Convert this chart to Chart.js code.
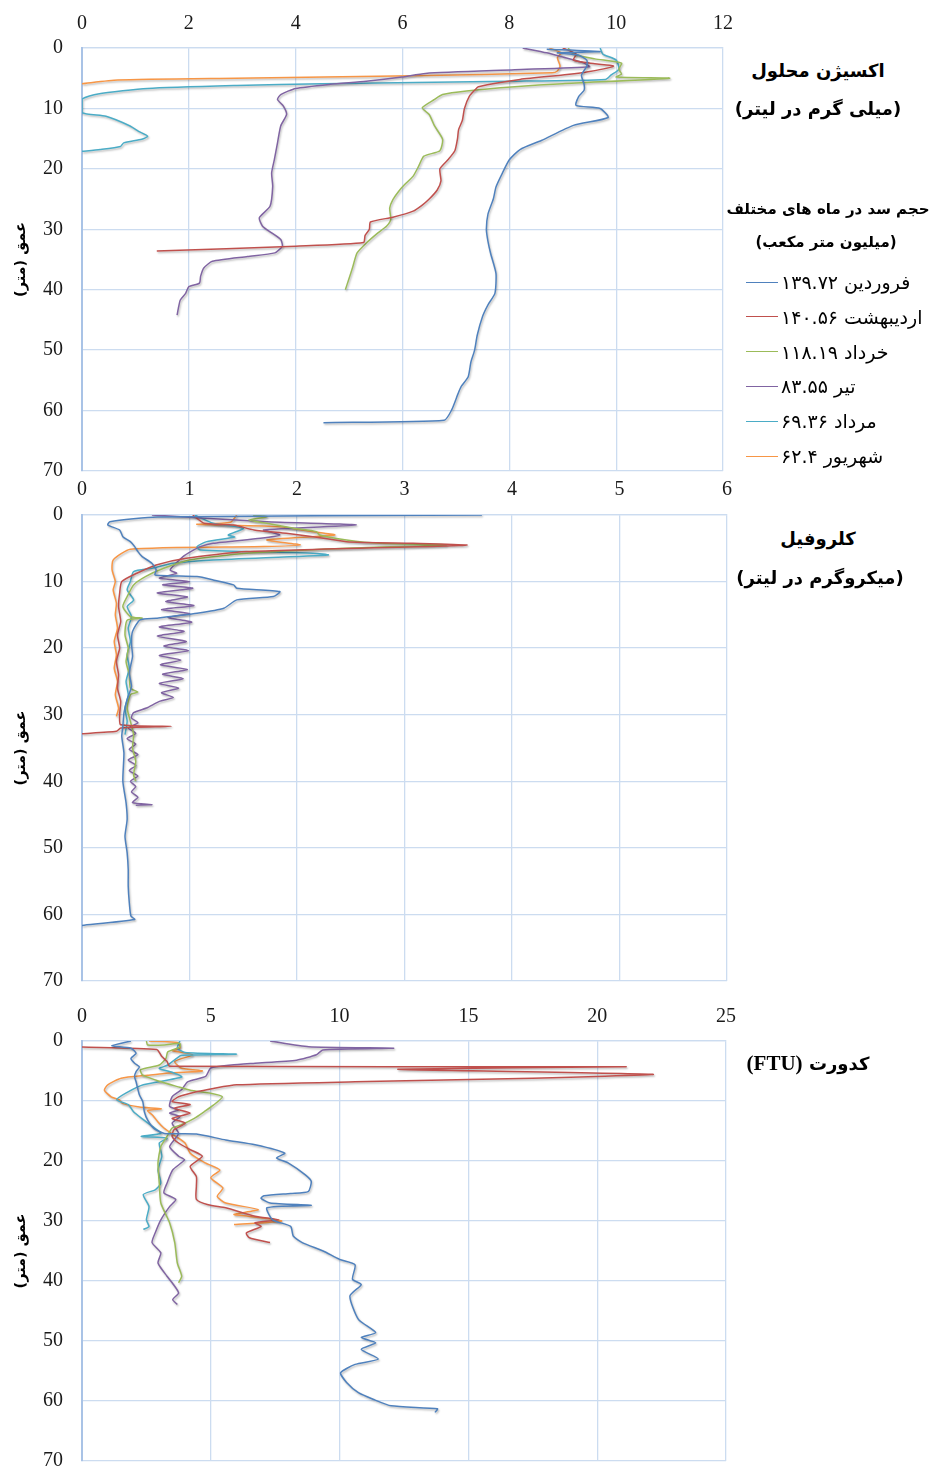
<!DOCTYPE html>
<html><head><meta charset="utf-8">
<script src="https://cdn.jsdelivr.net/npm/chart.js@4"></script>
<style>
body{margin:0;width:931px;height:1468px;background:#fff;position:relative;overflow:hidden;font-family:"DejaVu Sans",sans-serif;}
canvas{position:absolute;left:0;}
.t{position:absolute;direction:rtl;text-align:center;font-weight:bold;color:#000;white-space:nowrap;transform:translate(-50%,-50%);}
.lg{position:absolute;left:746px;display:flex;align-items:center;transform:translateY(-50%);}
.lg i{display:block;width:32px;height:0;border-top:1.5px solid;margin-right:3px;}
.lg span{direction:rtl;font-size:19px;color:#000;white-space:nowrap;}
</style></head><body>
<canvas id="c1" width="745" height="504" style="top:0px"></canvas>
<canvas id="c2" width="745" height="548" style="top:466px"></canvas>
<canvas id="c3" width="748" height="502" style="top:992px"></canvas>
<div class="t" style="left:818px;top:70px;font-size:18px">اکسیژن محلول</div>
<div class="t" style="left:818px;top:108px;font-size:18px">(میلی گرم در لیتر)</div>
<div class="t" style="left:828px;top:209px;font-size:15px">حجم سد در ماه های مختلف</div>
<div class="t" style="left:826px;top:242px;font-size:15px">(میلیون متر مکعب)</div>
<div id="legend"></div>
<div class="t" style="left:818px;top:538px;font-size:18px">کلروفیل</div>
<div class="t" style="left:820px;top:577px;font-size:18px">(میکروگرم در لیتر)</div>
<div class="t" style="left:808px;top:1063px;font-size:18px">کدورت <span style="font-family:'Liberation Serif';font-size:21px">(FTU)</span></div>
<script>
// ---- categories ----
const months = ['فروردین','اردیبهشت','خرداد','تیر','مرداد','شهریور'];
const volumes = ['۱۳۹.۷۲','۱۴۰.۵۶','۱۱۸.۱۹','۸۳.۵۵','۶۹.۳۶','۶۲.۴'];
const colors = ['#4F81BD','#C0504D','#9BBB59','#8064A2','#4BACC6','#F79646'];
const depthTicks = [0,10,20,30,40,50,60,70];
const oxyTicks = [0,2,4,6,8,10,12];
const chlTicks = [0,1,2,3,4,5,6];
const turbTicks = [0,5,10,15,20,25];
const depthTitle = '\u200Fعمق (متر)\u200F';

// ---- Dissolved oxygen (mg/L) ----
const oxyFarVal = [8.7,9.7,8.9,9.3,9.45,9.45,9.35,9.4,9.4,9.3,9.25,9.7,9.85,9.2,8.6,8.2,8.0,7.87,7.75,7.7,7.6,7.57,7.6,7.65,7.75,7.73,7.6,7.5,7.4,7.35,7.28,7.23,7.1,7.04,6.92,6.78,4.52];
const oxyFarDepth = [0.2,0.6,0.8,1.2,2,3,4.5,6,7,8,9.5,10,11.5,12.8,15.3,16.8,18.5,20.7,23,25,27.5,30,32,34,37.3,40.6,42.5,44.4,47.5,50,52,54.4,56,57.2,59.9,61.6,62];
const oxyOrdVal = [9.0,9.25,9.2,9.6,9.95,9.5,9.08,8.2,7.42,7.36,7.25,7.16,7.12,7.05,7.03,6.98,6.85,6.7,6.72,6.65,6.5,6.37,6.2,5.82,5.4,5.38,5.3,5.27,4.0,1.4];
const oxyOrdDepth = [0,1,2,2.6,3.0,3.9,4.4,5.2,6.4,6.9,8,10,12,13.5,15,17,18.5,20,22,23.5,25,26,27,28,28.8,30,31,32.2,32.8,33.6];
const oxyKhoVal = [9.1,9.2,9.6,10.1,10.05,10.1,10.0,11.0,9.0,8.1,7.2,6.75,6.6,6.37,6.5,6.6,6.75,6.7,6.4,6.3,6.2,6.04,5.93,5.82,5.76,5.78,5.7,5.54,5.32,5.15,5.07,4.99,4.93];
const oxyKhoDepth = [0,1,1.8,2.5,3.5,4.3,4.8,5.0,5.9,6.4,7.1,7.7,8.5,9.9,11,12.9,15.1,17,17.9,19.6,21.2,22.6,23.7,25.1,26.5,28.4,29.5,30.6,32.3,33.9,36.2,38.4,40];
const oxyTirVal = [8.25,8.7,9.0,9.4,9.5,8.1,6.43,5.99,5.32,4.65,4.0,3.72,3.66,3.77,3.83,3.72,3.66,3.6,3.55,3.57,3.52,3.32,3.38,3.55,3.72,3.75,3.61,3.1,2.44,2.28,2.22,2.2,2.0,1.94,1.84,1.81,1.78];
const oxyTirDepth = [0,0.8,1.5,2.5,3.1,3.6,4.2,4.8,5.5,6.0,6.7,7.7,8.5,9.6,11,12.9,15.7,18.5,20.7,22.9,26.2,28.1,29.5,30.6,31.7,32.8,33.9,34.5,35.3,36.4,37.8,38.9,39.5,40.6,41.7,42.8,44.2];
const oxyMorVal = [9.7,9.75,10.0,10.05,9.9,9.8,8.0,4.5,2.9,1.23,0.3,0,0,0.45,0.9,1.06,1.23,1.12,0.78,0.72,0.34,0];
const oxyMorDepth = [0,1,2,3.5,4.5,5.2,5.5,5.9,6.2,6.7,7.6,8.5,10.7,11.3,12.9,13.8,14.6,15.1,15.7,16.3,16.8,17.1];
const oxyShaVal = [8.75,8.97,8.9,8.95,8.9,8.8,6.2,2.88,0.67,0];
const oxyShaDepth = [0,0.8,1.6,3,3.8,4.1,4.6,5.0,5.3,5.9];

// ---- Chlorophyll (µg/L) ----
const chlFarVal = [3.72,0.7,0.26,0.24,0.35,0.38,0.45,0.49,0.52,0.56,0.65,0.69,0.68,1.07,1.22,1.41,1.44,1.84,1.78,1.44,1.32,1.07,0.69,0.54,0.47,0.46,0.47,0.44,0.46,0.42,0.39,0.38,0.37,0.39,0.38,0.41,0.42,0.4,0.42,0.43,0.43,0.44,0.455,0.49,0];
const chlFarDepth = [0,0.3,1.0,1.5,2.25,3.25,4,4.75,5.5,6.25,7.25,8.25,9,9.25,9.75,10.5,11,11.5,12.25,12.75,14,14.75,15.5,15.75,17.5,19.25,21.25,23.75,25.75,27.75,29.75,31.75,33.25,35.75,40,43.25,45.75,48.25,50.75,53.25,55.75,58.25,60.25,60.75,61.65];
const chlOrdVal = [1.03,1.14,1.41,1.6,1.9,2.15,2.46,3.08,3.58,3.39,1.53,0.97,0.69,0.51,0.37,0.35,0.34,0.36,0.33,0.35,0.32,0.34,0.33,0.36,0.35,0.36,0.83,0.36,0.32,0];
const chlOrdDepth = [0,1.25,1.5,2.25,2.75,3.25,4,4.25,4.5,4.65,5.5,6.5,7.5,8.75,10,11.75,13.75,16,18,20,22,24,26,28,30,31.5,31.75,32.0,32.5,32.85];
const chlKhoVal = [1.59,1.72,1.55,1.72,1.97,2.18,2.21,2.46,2.77,3.39,2.46,1.53,1.0,0.76,0.59,0.48,0.42,0.38,0.45,0.56,0.42,0.4,0.43,0.41,0.44,0.45,0.52,0.45,0.42,0.45,0.48,0.47,0.5,0.48,0.5];
const chlKhoDepth = [0,0.25,0.75,1.25,2,2.5,3,3.75,4.25,4.5,5,5.75,6.75,8,9.25,10.5,12.25,13.75,15.25,15.5,15.8,18,20,22,24,26,26.6,27,29,31,33,35,37,39,40];
const chlTirVal = [0.65,1.72,2.55,1.69,1.84,1.66,1.22,1.1,1.04,0.94,0.82,0.88,0.72,1.0,0.75,1.03,0.7,0.98,0.78,1.04,0.74,1.0,0.8,1.02,0.72,0.95,0.7,0.97,0.76,0.99,0.72,0.92,0.73,0.98,0.75,0.94,0.72,0.9,0.74,0.85,0.72,0.6,0.48,0.46,0.52,0.43,0.5,0.42,0.5,0.44,0.52,0.43,0.5,0.44,0.52,0.45,0.5,0.46,0.52,0.47,0.65,0.5];
const chlTirDepth = [0,1,1.5,2.25,3,3.5,4.25,4.75,5.25,6.25,8.25,8.75,9.5,10,10.5,11,11.7,12.3,13,13.6,14.2,14.8,15.4,16.1,16.8,17.5,18.2,19,19.7,20.4,21.1,21.8,22.5,23.2,23.9,24.6,25.3,26,26.7,27.4,28,29,29.7,30.5,31.2,32,32.8,33.6,34.4,35.2,36,36.8,37.6,38.4,39.2,40,40.8,41.6,42.4,43.2,43.5,43.6];
const chlMorVal = [1.05,1.22,1.5,1.36,1.42,1.16,1.07,1.1,2.15,2.29,1.22,0.85,0.65,0.48,0.45,0.42,0.48,0.42,0.46,0.43,0.45,0.42,0.44,0.41,0.43,0.4,0.42,0.4];
const chlMorDepth = [0,1.25,2,3,3.3,4,4.75,5.25,5.75,6,6.75,7.25,8,8.5,10,11.25,12.75,13.75,15.25,17,19,21,23,25,27,29,31,33];
const chlShaVal = [1.44,1.38,1.07,1.84,2.15,2.35,1.72,2.03,1.69,0.45,0.29,0.28,0.31,0.29,0.32,0.31,0.33,0.3,0.32,0.3,0.33,0.31,0.34,0.32];
const chlShaDepth = [0,1.1,1.4,1.75,2.5,3,3.75,4.5,4.75,5.15,6.75,8.25,10,11.25,13.25,15,17,19,21,23,25,27,29,30.25];

// ---- Turbidity (FTU) ----
const turbFarVal = [1.9,1.15,1.9,2.1,1.9,2.04,2.23,2.1,2.04,2.1,2.16,2.23,2.36,2.42,2.55,2.8,3.2,4.44,5.58,6.72,7.87,7.55,8.0,8.67,8.9,8.78,8.1,7.07,6.95,7.3,8.9,7.18,7.4,8.1,8.2,8.55,9.36,10.0,10.6,10.5,10.84,10.4,10.73,11.4,10.84,11.4,10.84,11.5,10.6,10.04,10.27,10.73,11.3,12.0,13.8,13.7];
const turbFarDepth = [0,0.8,1.2,2.05,2.9,3.7,4.3,5.1,5.9,6.8,7.9,9,10.1,11.8,13.2,14.6,15.4,15.5,16.5,17.3,18.7,19.5,20.3,22.3,23.4,25.1,25.4,25.8,26.2,27,27.4,27.8,29.8,30.9,32.5,33.6,35,36.4,37.3,39.7,40.6,42.5,46.4,48.6,49.4,50.3,51.4,53,53.9,55.3,56.9,58.6,59.7,60.8,61.3,61.9];
const turbOrdVal = [0,2.9,3.1,3.3,3.4,21.1,12.26,22.16,17.5,10.6,6.0,5.1,4.4,3.75,3.5,4.2,3.57,4.2,3.5,4.0,3.57,3.5,3.75,4.2,4.67,4.2,4.44,4.44,4.44,4.9,5.58,6.72,7.64,6.72,6.95,6.38,6.5,7.3];
const turbOrdDepth = [1.0,1.4,2.6,3.4,4.2,4.3,4.7,5.55,6.2,6.8,7.3,7.9,8.5,9.3,10.1,10.6,11.2,12.0,12.9,13.7,14.8,15.9,17,18.1,19.2,20.9,22.6,24.2,26.4,27.3,27.8,29.2,29.8,30.3,30.9,32,32.8,33.6];
const turbKhoVal = [2.5,2.55,3.2,3.8,3.8,3.33,3.26,3.0,2.27,2.36,3.06,3.7,4.2,5.0,5.45,5.1,4.74,4.36,3.84,3.5,3.3,3.06,2.95,3.0,3.06,3.4,3.6,3.7,3.87,3.75];
const turbKhoDepth = [0,0.67,0.67,0.4,1.0,1.8,2.9,4.0,4.8,5.7,6.8,7.6,8.2,8.7,9.3,10.7,11.8,12.9,14,14.5,15.9,17.6,20.3,23.7,27,30.3,33.6,37,39.2,40.3];
const turbTirVal = [7.3,8.8,12.1,9.35,9.1,8.33,6.72,5.8,5.0,4.8,4.1,3.87,3.5,3.4,3.75,3.4,3.8,3.5,3.75,3.4,3.75,3.98,3.52,3.3,3.18,3.64,3.4,3.06,2.84,2.72,3.06,2.95,3.3,3.5,3.75,3.52,3.7];
const turbTirDepth = [0,0.95,1.2,1.5,2.3,3.2,3.7,4.0,4.5,5.9,6.8,8.1,9.3,10.9,11.5,12,12.6,13.7,15.4,17.6,19.2,19.8,21.5,23.7,25.3,26.4,27.6,29.8,32,33.6,35.3,37,39.2,40.3,42,43.1,43.9];
const turbMorVal = [3.8,3.7,4.0,6.0,3.84,3.7,3.33,3.0,3.5,3.87,2.38,1.7,1.35,1.8,2.0,2.38,2.72,3.06,2.3,3.3,3.0,3.1,2.95,3.06,2.84,2.38,2.6,2.5,2.6,2.38];
const turbMorDepth = [0,1.2,1.9,2.2,2.4,2.8,4.0,4.6,5.2,6.0,7.3,8.7,9.8,10.6,11.8,13.1,14.2,15.4,15.9,16.2,17,19.2,21.5,23.7,24.8,25.6,27.6,29.8,30.9,31.4];
const turbShaVal = [2.6,3.75,3.8,3.5,4.3,3.6,3.84,4.67,3.2,2.55,1.52,1.0,0.87,1.13,1.45,1.58,2.23,3.07,2.55,2.75,2.95,3.18,3.64,4.0,4.2,4.78,5.35,5.0,5.47,5.25,5.58,6.84,5.9,6.45,7.75,5.9];
const turbShaDepth = [0,0.3,1.2,1.6,2.3,3.4,4.5,5.0,5.4,5.7,6.2,7.3,8.2,9.3,9.8,10.4,11.0,11.3,11.6,12.4,13.5,14.5,15.9,17,18.7,20.3,21.5,22.8,24.5,25.9,27,28.1,28.9,29.2,30,30.6];

// ---- legend (HTML) ----
const legendEl = document.getElementById('legend');
months.forEach((m, i) => {
  const row = document.createElement('div');
  row.className = 'lg';
  row.style.top = (282 + i * 34.8) + 'px';
  row.innerHTML = '<i style="border-color:' + colors[i] + '"></i><span>' + m + ' ' + volumes[i] + '</span>';
  legendEl.appendChild(row);
});

const shadowPlugin = {
  id: 'shadow',
  beforeDatasetsDraw(chart) {
    const c = chart.ctx; c.save();
    c.shadowColor = 'rgba(0,0,0,0.28)'; c.shadowBlur = 2; c.shadowOffsetX = 1; c.shadowOffsetY = 1.5;
  },
  afterDatasetsDraw(chart) { chart.ctx.restore(); }
};

function makeChart(id, vals, depths, ticks, tickPad, target) {
  const state = { axisH: target.top, padR: 18 };
  const tickFont = { family: 'Liberation Serif', size: 20 };
  const canvas = document.getElementById(id);
  const build = () => new Chart(canvas, {
    type: 'scatter',
    data: {
      datasets: months.map((m, i) => ({
        label: m + ' ' + volumes[i],
        data: vals[i].map((v, j) => ({ x: v, y: depths[i][j] })),
        borderColor: colors[i],
        backgroundColor: colors[i],
        borderWidth: 1.5,
        pointRadius: 0,
        showLine: true,
        tension: 0.2,
        fill: false
      }))
    },
    plugins: [shadowPlugin],
    options: {
      responsive: false,
      animation: false,
      devicePixelRatio: 1,
      layout: { padding: { left: 0, top: 0, right: state.padR, bottom: 0 } },
      plugins: { legend: { display: false }, tooltip: { enabled: false } },
      scales: {
        x: {
          type: 'linear', position: 'top',
          min: ticks[0], max: ticks[ticks.length - 1],
          ticks: { stepSize: ticks[1] - ticks[0], font: tickFont, color: '#1a1a1a', padding: tickPad },
          grid: { color: '#CCDCF0', lineWidth: 1.3, drawTicks: false },
          border: { color: '#CCDCF0', width: 1.3 },
          afterFit(s) { s.height = state.axisH; }
        },
        y: {
          type: 'linear', reverse: true,
          min: depthTicks[0], max: depthTicks[depthTicks.length - 1],
          ticks: { stepSize: depthTicks[1] - depthTicks[0], font: tickFont, color: '#1a1a1a', padding: 19 },
          grid: { color: '#CCDCF0', lineWidth: 1.3, drawTicks: false },
          border: { color: '#A9C3E6', width: 2 },
          title: { display: true, text: depthTitle, font: { family: 'DejaVu Sans', size: 14.5, weight: 'bold' }, color: '#000', padding: { top: 13, bottom: 0 } },
          afterFit(s) { s.width = 82; }
        }
      }
    }
  });
  let chart = build();
  // nudge the layout so the plot area sits where the reference plot area sits
  for (let k = 0; k < 4; k++) {
    const ca = chart.chartArea;
    const dR = Math.round(ca.right - target.right);
    const dT = Math.round(ca.top - target.top);
    const dB = Math.round(ca.bottom - target.bottom);
    if (!dR && !dT && !dB) break;
    const h = chart.height;
    chart.destroy();
    state.padR = Math.max(0, state.padR + dR);
    state.axisH -= dT;
    canvas.setAttribute('height', String(h - dB));
    canvas.setAttribute('width', String(canvas.width));
    chart = build();
  }
  return chart;
}

makeChart('c1',
  [oxyFarVal, oxyOrdVal, oxyKhoVal, oxyTirVal, oxyMorVal, oxyShaVal],
  [oxyFarDepth, oxyOrdDepth, oxyKhoDepth, oxyTirDepth, oxyMorDepth, oxyShaDepth],
  oxyTicks, 12, { top: 48, bottom: 471, right: 727 });
makeChart('c2',
  [chlFarVal, chlOrdVal, chlKhoVal, chlTirVal, chlMorVal, chlShaVal],
  [chlFarDepth, chlOrdDepth, chlKhoDepth, chlTirDepth, chlMorDepth, chlShaDepth],
  chlTicks, 13, { top: 49, bottom: 515, right: 727 });
makeChart('c3',
  [turbFarVal, turbOrdVal, turbKhoVal, turbTirVal, turbMorVal, turbShaVal],
  [turbFarDepth, turbOrdDepth, turbKhoDepth, turbTirDepth, turbMorDepth, turbShaDepth],
  turbTicks, 12, { top: 49, bottom: 469, right: 730 });
</script>
</body></html>
